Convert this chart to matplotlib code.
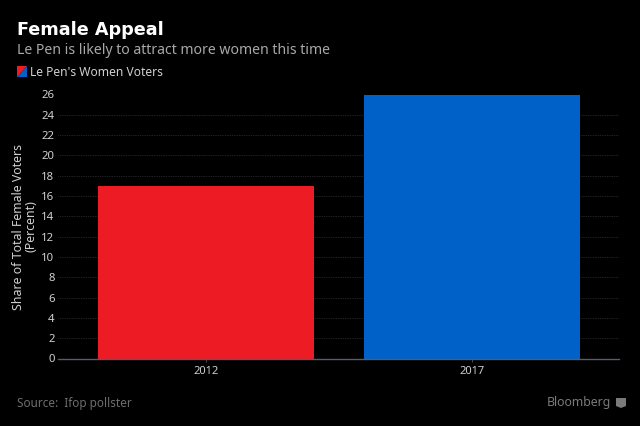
import matplotlib
matplotlib.use('Agg')
import matplotlib.pyplot as plt
from matplotlib.patches import Polygon

plt.rcParams['font.family'] = ['Noto Sans', 'DejaVu Sans']

# Data
years = ['2012', '2017']
share = [17, 26]
bar_colors = ['#ed1c24', '#0062c8']
yticks = list(range(0, 28, 2))

W, H = 640, 426
BG = '#000000'

fig = plt.figure(figsize=(W / 100, H / 100), dpi=100, facecolor=BG)

# axes box in pixels: x 58-619, y 94.5-358.5
ax = fig.add_axes([58 / W, 1 - 358.5 / H, (619 - 58) / W, 264 / H], facecolor=BG)
ax.bar([0, 1], share, width=0.814, color=bar_colors, zorder=3)
ax.set_xlim(-0.556, 1.553)
ax.set_ylim(0, 26)

ax.set_yticks(yticks)
ax.set_xticks([0, 1])
ax.set_xticklabels(years)
ax.tick_params(axis='y', length=0, pad=2.5, labelsize=8.2, labelcolor='#d0d0d0')
ax.tick_params(axis='x', length=2, width=0.6, color='#555566', pad=3.5, labelsize=8, labelcolor='#d0d0d0')
ax.grid(axis='y', color='#444444', linewidth=0.5, linestyle=(0, (1, 1.5)), zorder=1)
for side in ['top', 'right', 'left']:
    ax.spines[side].set_visible(False)
ax.spines['bottom'].set_color('#5a5a6e')
ax.spines['bottom'].set_linewidth(1.0)
ax.spines['bottom'].set_zorder(4)

ax.set_ylabel('Share of Total Female Voters\n(Percent)', fontsize=8.9, color='#d0d0d0',
              linespacing=0.95, labelpad=3)

# Header and footer
fig.text(17 / W, 1 - 35 / H, 'Female Appeal', fontsize=12.7, fontweight='bold', family='DejaVu Sans',
         color='#ffffff', va='baseline')
fig.text(17 / W, 1 - 54 / H, 'Le Pen is likely to attract more women this time', fontsize=10.15,
         color='#a8a8a8', va='baseline')
fig.text(30 / W, 1 - 76 / H, "Le Pen's Women Voters", fontsize=8.7, color='#d0d0d0', va='baseline')
fig.text(17 / W, 1 - 407 / H, 'Source:  Ifop pollster', fontsize=8.45, color='#6e6e6e', va='baseline')
fig.text(611 / W, 1 - 406 / H, 'Bloomberg', fontsize=8.9, color='#7a7a7a', va='baseline', ha='right')


def px(x, y):
    return (x / W, 1 - y / H)


# Legend swatch: red and blue split on the diagonal
fig.add_artist(Polygon([px(17, 66), px(27, 66), px(17, 77)], closed=True, color='#ed1c24', lw=0,
                       transform=fig.transFigure))
fig.add_artist(Polygon([px(27, 66), px(27, 77), px(17, 77)], closed=True, color='#0062c8', lw=0,
                       transform=fig.transFigure))

# Bloomberg logo mark
fig.add_artist(Polygon([px(616, 398), px(626, 398), px(626, 406), px(621, 408), px(616, 406)], closed=True,
                       color='#7a7a7a', lw=0, transform=fig.transFigure))

fig.savefig('out.png', dpi=100, facecolor=BG)
